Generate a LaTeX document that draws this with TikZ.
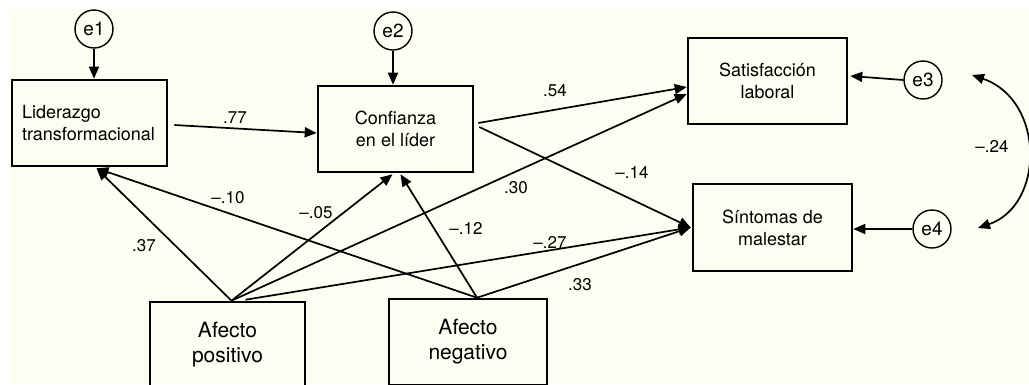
\documentclass[tikz,border=0pt]{standalone}
\usepackage{fontspec}
\setmainfont{TeX Gyre Heros}
\usetikzlibrary{arrows.meta,calc}
\definecolor{cream}{RGB}{253,253,242}
\begin{document}
\begin{tikzpicture}[x=1pt,y=-1pt,
  box/.style={draw, line width=2.6pt, minimum width=155pt, minimum height=86pt, align=center, font=\fontsize{18}{22}\selectfont, inner sep=0pt},
  bigbox/.style={box, font=\fontsize{21}{25}\selectfont},
  err/.style={draw, circle, line width=1.4pt, minimum size=38pt, inner sep=0pt, font=\fontsize{19}{22}\selectfont},
  arr/.style={line width=1.7pt, -{Triangle[length=12pt,width=10pt]}},
  dbl/.style={line width=1.7pt, {Triangle[length=12pt,width=10pt]}-{Triangle[length=12pt,width=10pt]}},
  lab/.style={font=\fontsize{17}{20}\selectfont, inner sep=0pt},
]
\useasboundingbox (0,0) rectangle (1029,384);
\begin{scope}
\clip (0,0) rectangle (1029,384);
\fill[cream] (10,9) rectangle (1029,384);

% boxes
\node[box, align=left, text width=135pt] (lid) at (89.5,123) {Liderazgo\\transformacional};
\node[box] (conf) at (395.5,129) {Confianza\\en el líder};
\node[box, minimum width=159pt] (sat) at (767.5,81) {Satisfacción\\laboral};
\node[box, minimum width=159pt, minimum height=87pt] (sin) at (772.5,227.5) {Síntomas de\\malestar};
\node[bigbox] (pos) at (227.5,345) {Afecto\\positivo};
\node[bigbox, minimum width=158pt] (neg) at (468,342) {Afecto\\negativo};

% error terms
\node[err] (e1) at (94,29) {e1};
\node[err] (e2) at (393,31) {e2};
\node[err] (e3) at (923,80) {e3};
\node[err] (e4) at (932,229) {e4};
\coordinate (c3) at (972,75);
\coordinate (c4) at (978,228);

% error arrows
\draw[arr] (e1.south) -- (e1.south |- lid.north);
\draw[arr] (e2.south) -- (e2.south |- conf.north);
\draw[arr] (e3.west) -- ($(sat.east)+(2,-5)$);
\draw[arr] (e4.west) -- (e4.west -| sin.east);
\draw[dbl] (c3) .. controls (1045,100) and (1045,205) .. (c4);

% structural paths
\draw[arr] ($(lid.east)+(6,2)$) -- ($(conf.west)+(0,4)$);
\draw[arr] ($(conf.east)+(4,-6)$) -- ($(sat.west)+(0,6)$);
\draw[arr] ($(conf.east)+(5,-2)$) -- ($(sin.west)+(-1,0)$);
\draw[arr] ($(pos.north)+(4,0)$) -- ($(lid.south)+(7,1)$);
\draw[arr] ($(neg.north)+(9,0)$) -- ($(lid.south)+(7,1)$);
\draw[arr] ($(pos.north)+(4,0)$) -- ($(conf.south)+(-3,1)$);
\draw[arr] ($(neg.north)+(9,0)$) -- ($(conf.south)+(5,1)$);
\draw[arr] ($(pos.north)+(4,0)$) -- ($(sat.west)+(0,13)$);
\draw[arr] ($(pos.north)+(18,-1)$) -- ($(sin.west)+(-1,0)$);
\draw[arr] ($(neg.north)+(9,0)$) -- ($(sin.west)+(-1,0)$);

% labels
\node[lab] (l77) at (235,118) {.77};
\node[lab] (l54) at (555,91) {.54};
\node[lab] (l14) at (632,172) {–.14};
\node[lab] (l30) at (516,188) {.30};
\node[lab] (l12) at (466,228) {–.12};
\node[lab] (l27) at (550,242) {–.27};
\node[lab] (l33) at (580,285) {.33};
\node[lab] (l10) at (228,198) {–.10};
\node[lab] (l05) at (316,213) {–.05};
\node[lab] (l37) at (144,246) {.37};
\node[lab] (l24) at (992,146) {–.24};
\end{scope}
\end{tikzpicture}
\end{document}
